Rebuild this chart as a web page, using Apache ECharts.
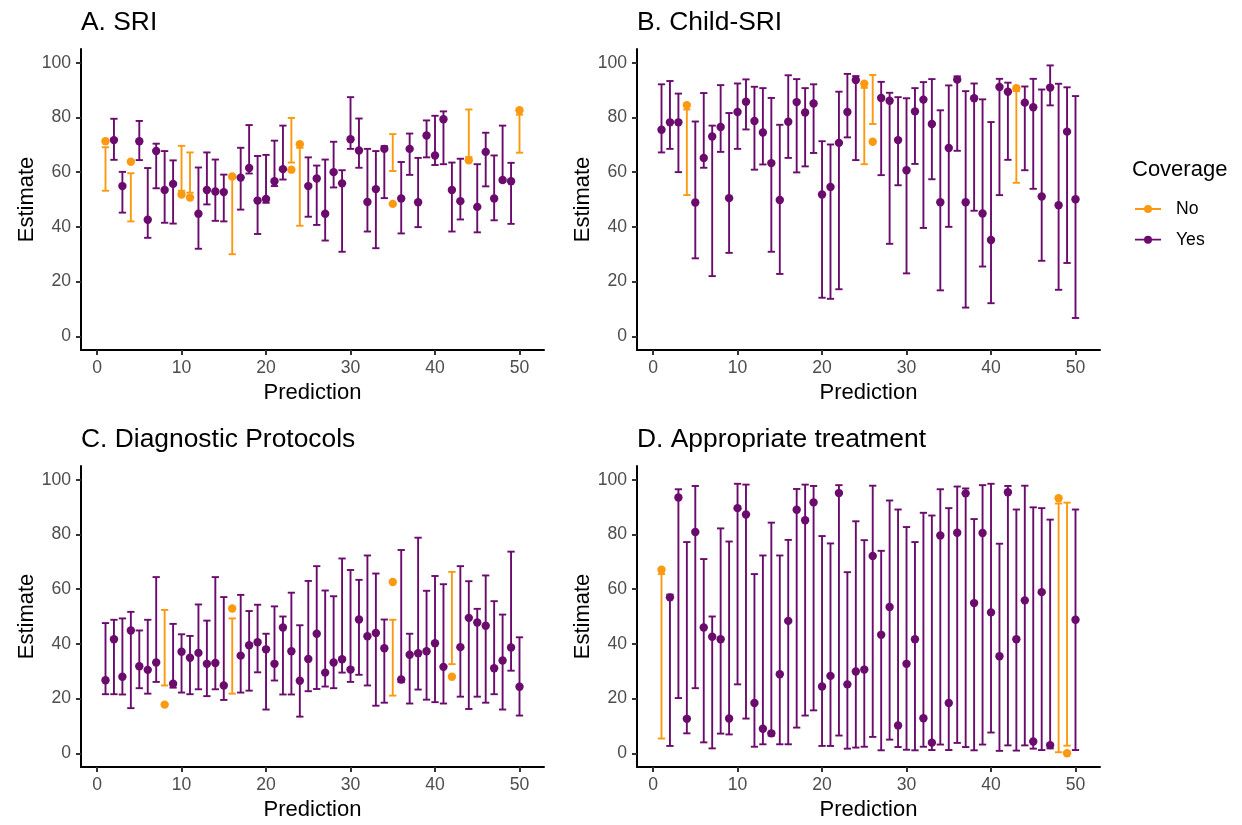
<!DOCTYPE html>
<html>
<head>
<meta charset="utf-8">
<script src="https://cdn.jsdelivr.net/npm/echarts@6/dist/echarts.min.js"></script>
<style>html,body{margin:0;padding:0;background:#fff}#chart{width:1242px;height:825px}</style>
</head>
<body>
<div id="chart"></div>
<script>
const predictions = [1,2,3,4,5,6,7,8,9,10,11,12,13,14,15,16,17,18,19,20,21,22,23,24,25,26,27,28,29,30,31,32,33,34,35,36,37,38,39,40,41,42,43,44,45,46,47,48,49,50];
const panelTitles = ['A. SRI', 'B. Child-SRI', 'C. Diagnostic Protocols', 'D. Appropriate treatment'];
const xTicks = [0, 10, 20, 30, 40, 50];
const yTicks = [0, 20, 40, 60, 80, 100];
const coverageLevels = ['No', 'Yes'];

// A. SRI
const sriEst = [71.3,71.7,54.9,63.8,71.3,42.6,67.7,53.5,55.7,51.8,50.7,44.8,53.5,52.9,52.7,58.4,58.0,61.5,49.6,50.2,56.7,61.1,60.9,70.2,54.9,57.7,44.8,60.0,55.9,72.0,67.9,49.1,53.8,68.5,48.4,50.4,68.5,49.0,73.4,66.1,79.3,53.5,49.4,64.3,47.3,67.4,50.4,57.1,56.7,82.6];
const sriLo  = [53.2,64.5,45.2,42.0,64.4,36.0,54.1,41.5,41.2,53.2,52.5,32.0,48.2,42.2,42.0,30.0,46.3,59.5,37.4,48.8,54.9,57.3,63.5,40.4,43.7,40.7,35.0,54.4,30.9,68.5,61.6,38.3,32.2,50.5,60.4,37.6,59.0,39.9,65.4,62.6,62.9,38.3,42.7,65.5,38.0,54.8,42.4,56.5,41.1,67.1];
const sriHi  = [69.1,79.5,60.1,59.6,78.7,61.5,70.4,67.7,64.3,69.6,67.2,61.7,67.2,64.6,59.1,57.9,68.9,77.2,65.9,66.3,71.5,77.0,79.8,68.9,65.4,62.4,64.6,71.1,60.7,87.4,79.6,68.5,67.7,69.5,73.9,63.7,74.1,65.2,78.9,80.6,82.2,63.5,64.9,82.9,62.9,74.4,66.1,77.0,63.4,81.0];
const sriNotCovered = [1,4,10,11,16,23,24,35,44,50];

// B. Child-SRI
const childEst = [75.5,78.2,78.2,84.5,48.9,65.2,73.0,76.5,50.5,82.0,85.7,78.7,74.5,63.3,49.8,78.4,85.6,81.8,85.1,51.8,54.6,70.7,82.0,93.7,92.3,71.1,87.1,86.1,71.7,60.7,82.2,86.5,77.6,49.0,68.8,93.8,49.0,87.0,44.9,35.2,91.1,89.4,90.7,85.4,83.7,51.1,90.9,47.9,74.8,50.1];
const childLo  = [67.2,68.5,60.0,51.6,28.5,61.6,22.0,67.4,30.5,68.5,75.6,60.9,62.8,30.9,22.8,65.2,59.9,62.1,67.0,14.1,13.7,17.2,72.7,64.4,62.9,77.6,58.9,33.8,55.2,23.0,63.0,39.6,57.4,16.8,40.0,67.8,10.5,45.9,25.5,12.1,51.6,64.5,56.1,60.7,53.9,27.6,84.4,17.0,26.8,6.7];
const childHi  = [92.1,93.3,88.7,82.9,78.5,88.9,77.0,91.8,81.6,92.4,93.9,91.2,90.7,87.1,77.3,95.4,94.0,90.7,92.1,71.3,70.1,89.4,95.9,95.1,90.8,95.5,93.0,89.0,87.4,87.0,90.7,92.9,94.0,82.6,91.7,95.0,89.6,92.4,86.6,78.3,94.1,92.7,89.6,91.3,94.1,90.2,99.0,92.3,91.0,87.8];
const childNotCovered = [4,25,26,43];

// C. Diagnostic Protocols
const diagEst = [26.7,41.7,28.0,44.9,31.8,30.5,33.2,17.8,25.4,37.1,34.9,36.7,32.7,33.0,24.8,52.9,35.7,39.5,40.6,38.0,32.7,46.0,37.3,26.5,34.5,43.7,29.5,33.2,34.4,30.6,48.9,42.8,44.0,38.4,62.6,27.0,36.0,36.6,37.3,40.2,31.6,28.0,38.8,49.5,47.8,46.6,31.1,33.9,38.7,24.3];
const diagLo  = [21.6,21.6,21.5,16.5,23.8,21.8,26.1,24.8,24.0,22.2,21.6,23.4,20.9,23.4,19.5,21.8,22.2,22.9,29.6,16.0,26.6,21.5,21.5,13.4,22.7,23.5,24.4,23.8,29.5,26.1,28.7,24.8,17.4,18.5,21.1,26.0,18.2,23.3,19.6,18.7,18.2,32.6,20.7,16.2,20.7,18.5,21.6,16.0,30.2,13.8];
const diagHi  = [47.6,48.8,49.3,51.7,44.9,48.8,64.4,52.4,47.3,43.5,42.9,54.4,48.5,64.4,57.1,49.3,57.9,52.0,54.3,43.7,53.7,50.0,58.7,46.8,63.0,68.4,59.5,57.4,71.2,67.0,63.4,72.3,65.7,48.9,48.8,74.3,43.7,78.8,59.4,64.8,61.8,66.3,68.4,62.9,52.8,65.0,55.6,50.7,73.7,42.4];
const diagNotCovered = [8,16,35,42];

// D. Appropriate treatment
const treatEst = [67.1,57.0,93.5,12.6,80.9,46.0,42.6,41.7,12.7,89.6,87.3,18.4,9.0,7.3,28.9,48.4,89.0,85.2,91.7,24.4,28.3,95.1,25.2,29.9,30.6,72.1,43.3,53.5,10.2,32.7,41.7,12.8,3.9,79.6,18.4,80.6,95.0,54.9,80.5,51.5,35.5,95.4,41.7,55.9,4.3,58.9,3.0,93.2,0.0,48.8];
const treatLo  = [5.4,2.7,20.2,7.3,23.8,4.0,1.8,7.2,6.9,25.2,12.7,2.4,3.3,6.5,3.3,3.3,9.4,13.8,15.7,2.7,2.7,6.5,1.7,2.1,2.4,6.0,1.1,5.0,2.3,1.3,1.1,2.4,1.2,3.2,1.2,3.8,2.3,1.1,3.2,7.6,0.9,2.9,1.0,2.9,1.7,1.2,1.8,0.4,2.8,1.2];
const treatHi  = [65.5,58.0,96.5,77.2,97.7,71.0,50.0,82.2,77.4,98.5,98.2,65.5,72.3,84.3,72.3,78.0,96.6,98.2,97.7,79.4,76.7,98.0,66.2,84.8,77.9,97.8,74.0,92.4,89.1,82.7,77.2,87.9,86.9,96.5,89.6,97.5,96.8,85.6,98.0,98.5,76.6,97.7,89.1,97.8,89.9,89.6,85.4,91.3,91.6,89.1];
const treatNotCovered = [1,48,49];

const panels = [
  {est: sriEst, lo: sriLo, hi: sriHi, notCovered: sriNotCovered},
  {est: childEst, lo: childLo, hi: childHi, notCovered: childNotCovered},
  {est: diagEst, lo: diagLo, hi: diagHi, notCovered: diagNotCovered},
  {est: treatEst, lo: treatLo, hi: treatHi, notCovered: treatNotCovered}
];

const COLORS = {No: '#FB9A10', Yes: '#6A0B6D'};
const FONT = '"Liberation Sans", Arial, Helvetica, sans-serif';
const gridPos = [
  {left: 81, top: 49},
  {left: 637, top: 49},
  {left: 81, top: 466},
  {left: 637, top: 466}
];
const GW = 463, GH = 301;

function errorBar(params, api) {
  const x = api.value(0), lo = api.value(1), hi = api.value(2);
  const pLo = api.coord([x, lo]);
  const pHi = api.coord([x, hi]);
  const half = api.coord([x + 0.43, lo])[0] - pLo[0];
  const style = {stroke: api.visual('color'), lineWidth: 1.9, fill: null};
  return {
    type: 'group',
    children: [
      {type: 'line', shape: {x1: pLo[0], y1: pHi[1], x2: pLo[0], y2: pLo[1]}, style: style},
      {type: 'line', shape: {x1: pLo[0] - half, y1: pHi[1], x2: pLo[0] + half, y2: pHi[1]}, style: style},
      {type: 'line', shape: {x1: pLo[0] - half, y1: pLo[1], x2: pLo[0] + half, y2: pLo[1]}, style: style}
    ]
  };
}

const grids = [], xAxes = [], yAxes = [], titles = [], series = [];
panels.forEach((p, i) => {
  grids.push({left: gridPos[i].left, top: gridPos[i].top, width: GW, height: GH, containLabel: false});
  xAxes.push({
    gridIndex: i, type: 'value', min: -1.9, max: 52.9,
    name: 'Prediction', nameLocation: 'middle', nameGap: 32,
    nameTextStyle: {fontSize: 22, color: '#000', fontFamily: FONT},
    axisLine: {onZero: false, lineStyle: {color: '#000', width: 2}},
    axisTick: {customValues: xTicks, length: 5, lineStyle: {color: '#333', width: 2}},
    axisLabel: {customValues: xTicks, color: '#4D4D4D', fontSize: 17.6, margin: 9, fontFamily: FONT},
    splitLine: {show: false}
  });
  yAxes.push({
    gridIndex: i, type: 'value', min: -5, max: 105,
    name: 'Estimate', nameLocation: 'middle', nameGap: 40, nameRotate: 90,
    nameTextStyle: {fontSize: 22, color: '#000', fontFamily: FONT},
    axisLine: {onZero: false, lineStyle: {color: '#000', width: 2}},
    axisTick: {customValues: yTicks, length: 5, lineStyle: {color: '#333', width: 2}},
    axisLabel: {customValues: yTicks, color: '#4D4D4D', fontSize: 17.6, margin: 10, fontFamily: FONT},
    splitLine: {show: false}
  });
  titles.push({
    text: panelTitles[i], left: gridPos[i].left, top: gridPos[i].top - 39.5, padding: 0,
    textStyle: {fontSize: 26.4, fontWeight: 'normal', color: '#000', fontFamily: FONT}
  });
  const groups = {No: {bars: [], pts: []}, Yes: {bars: [], pts: []}};
  predictions.forEach((pr, k) => {
    const g = p.notCovered.indexOf(pr) >= 0 ? 'No' : 'Yes';
    groups[g].bars.push([pr, p.lo[k], p.hi[k]]);
    groups[g].pts.push([pr, p.est[k]]);
  });
  coverageLevels.forEach(g => {
    series.push({
      type: 'custom', name: g, xAxisIndex: i, yAxisIndex: i,
      renderItem: errorBar, encode: {x: 0, y: [1, 2]},
      itemStyle: {color: COLORS[g]}, data: groups[g].bars, silent: true
    });
  });
  coverageLevels.forEach(g => {
    series.push({
      type: 'scatter', name: g, xAxisIndex: i, yAxisIndex: i,
      symbol: 'circle', symbolSize: 8.4,
      itemStyle: {color: COLORS[g], opacity: 1}, data: groups[g].pts, silent: true
    });
  });
});

titles.push({
  text: 'Coverage', left: 1132, top: 158.5, padding: 0,
  textStyle: {fontSize: 22, fontWeight: 'normal', color: '#000', fontFamily: FONT}
});

const legendIcon = 'path://M0,3.1H9.2V4.9H0Z M16.8,3.1H26V4.9H16.8Z M9,4A4,4 0 0 1 17,4A4,4 0 0 1 9,4Z';

const option = {
  animation: false,
  backgroundColor: '#fff',
  title: titles,
  grid: grids,
  xAxis: xAxes,
  yAxis: yAxes,
  legend: {
    orient: 'vertical', left: 1135, top: 200, padding: 0,
    itemWidth: 26, itemHeight: 8, itemGap: 12.7,
    selectedMode: false,
    data: coverageLevels.map(g => ({name: g, icon: legendIcon, itemStyle: {color: COLORS[g], borderWidth: 0}})),
    textStyle: {fontSize: 17.6, color: '#000', fontFamily: FONT, padding: [0, 0, 0, 10]}
  },
  series: series
};

const chart = echarts.init(document.getElementById('chart'), null, {renderer: 'canvas'});
chart.setOption(option);
</script>
</body>
</html>
